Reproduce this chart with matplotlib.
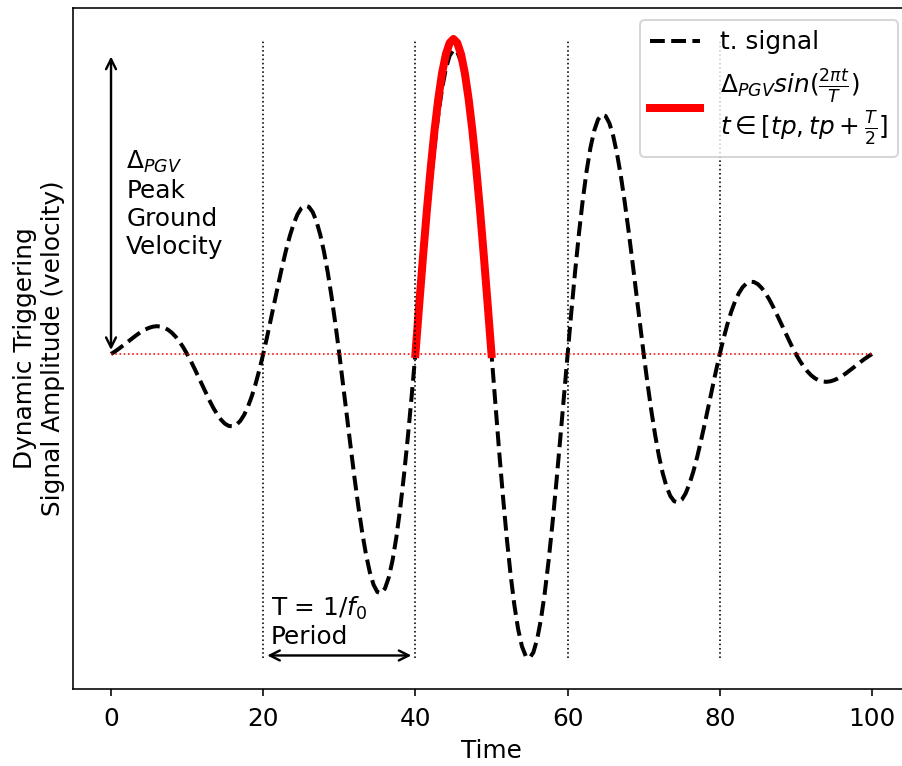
import matplotlib
matplotlib.use("Agg")
import matplotlib.pyplot as plt

# signal, every half time unit from 0 to 100
signal = [
    0.0, 0.0081, 0.0169, 0.0264, 0.0363, 0.0463, 0.0561, 0.0655, 0.0740, 0.0813,
    0.0869, 0.0907, 0.0923, 0.0911, 0.0873, 0.0804, 0.0704, 0.0572, 0.0409, 0.0218,
    0.0, -0.0240, -0.0498, -0.0768, -0.1042, -0.1312, -0.1572, -0.1811, -0.2021, -0.2192,
    -0.2318, -0.2388, -0.2398, -0.2342, -0.2215, -0.2016, -0.1743, -0.1400, -0.0990, -0.0520,
    0.0, 0.0560, 0.1147, 0.1745, 0.2340, 0.2910, 0.3444, 0.3919, 0.4319, 0.4629,
    0.4835, 0.4923, 0.4883, 0.4710, 0.4400, 0.3954, 0.3379, 0.2680, 0.1872, 0.0972,
    0.0, -0.1021, -0.2065, -0.3104, -0.4111, -0.5053, -0.5905, -0.6638, -0.7227, -0.7653,
    -0.7894, -0.7939, -0.7779, -0.7412, -0.6840, -0.6072, -0.5126, -0.4015, -0.2771, -0.1421,
    0.0, 0.1456, 0.2910, 0.4322, 0.5654, 0.6864, 0.7923, 0.8799, 0.9463, 0.9898,
    1.0086, 1.0020, 0.9698, 0.9128, 0.8321, 0.7298, 0.6085, 0.4708, 0.3210, 0.1626,
    0.0, -0.1626, -0.3210, -0.4708, -0.6085, -0.7298, -0.8321, -0.9128, -0.9698, -1.0020,
    -1.0086, -0.9898, -0.9463, -0.8799, -0.7923, -0.6864, -0.5654, -0.4322, -0.2910, -0.1456,
    0.0, 0.1421, 0.2771, 0.4015, 0.5126, 0.6072, 0.6840, 0.7412, 0.7779, 0.7939,
    0.7894, 0.7653, 0.7227, 0.6638, 0.5905, 0.5053, 0.4111, 0.3104, 0.2065, 0.1021,
    0.0, -0.0972, -0.1872, -0.2680, -0.3379, -0.3954, -0.4400, -0.4710, -0.4883, -0.4923,
    -0.4835, -0.4629, -0.4319, -0.3919, -0.3444, -0.2910, -0.2340, -0.1745, -0.1147, -0.0560,
    0.0, 0.0520, 0.0990, 0.1400, 0.1743, 0.2016, 0.2215, 0.2342, 0.2398, 0.2388,
    0.2318, 0.2192, 0.2021, 0.1811, 0.1572, 0.1312, 0.1042, 0.0768, 0.0498, 0.0240,
    0.0, -0.0218, -0.0409, -0.0572, -0.0704, -0.0804, -0.0873, -0.0911, -0.0923, -0.0907,
    -0.0869, -0.0813, -0.0740, -0.0655, -0.0561, -0.0463, -0.0363, -0.0264, -0.0169, -0.0081,
    0.0,
]
time = [i / 2 for i in range(len(signal))]

# half period at the big peak, tp = 40
pulse = [0.0, 0.1635, 0.323, 0.4744, 0.614, 0.7389, 0.845, 0.9311, 0.994, 1.0321, 1.045,
         1.0321, 0.994, 0.9311, 0.845, 0.7389, 0.614, 0.4744, 0.323, 0.1635, 0.0]
pulse_t = [40 + i / 2 for i in range(len(pulse))]

period_marks = [20, 40, 60, 80]
xticks = [0, 20, 40, 60, 80, 100]

plt.rcParams['font.size'] = 12.4

fig = plt.figure(figsize=(902 / 144, 766 / 144), dpi=144)
ax = fig.add_axes([0.0809, 0.1005, 0.928, 0.889])

ax.plot(time, signal, 'k--', lw=2, label="t. signal")
ax.plot(pulse_t, pulse, 'r-', lw=4,
        label=r"$\Delta_{PGV} sin(\frac{2\pi t}{T})$" + "\n" + r"$t \in [tp, tp+\frac{T}{2}]$")

ax.vlines(period_marks, min(signal), max(pulse), colors='k', linestyles=':', lw=0.8)
ax.hlines(0, time[0], time[-1], colors='r', linestyles=':', lw=0.8)

ax.annotate("", xy=(0, 1.0), xytext=(0, 0),
            arrowprops=dict(arrowstyle='<->', color='k', lw=1.2))
ax.text(2, 0.68, "$\\Delta_{PGV}$\nPeak\nGround\nVelocity", va='top', ha='left')

ax.annotate("", xy=(40, -1.0), xytext=(20, -1.0),
            arrowprops=dict(arrowstyle='<->', color='k', lw=1.2))
ax.text(21, -0.98, "T = 1/$f_0$\nPeriod", va='bottom', ha='left')

ax.set_xticks(xticks)
ax.set_yticks([])
ax.tick_params(axis='x', pad=5.5)
ax.spines['right'].set_visible(False)
ax.set_xlabel("Time")
ax.set_ylabel("Dynamic Triggering\nSignal Amplitude (velocity)")
ax.legend(loc='upper right')

fig.savefig("out.png", dpi=144)
